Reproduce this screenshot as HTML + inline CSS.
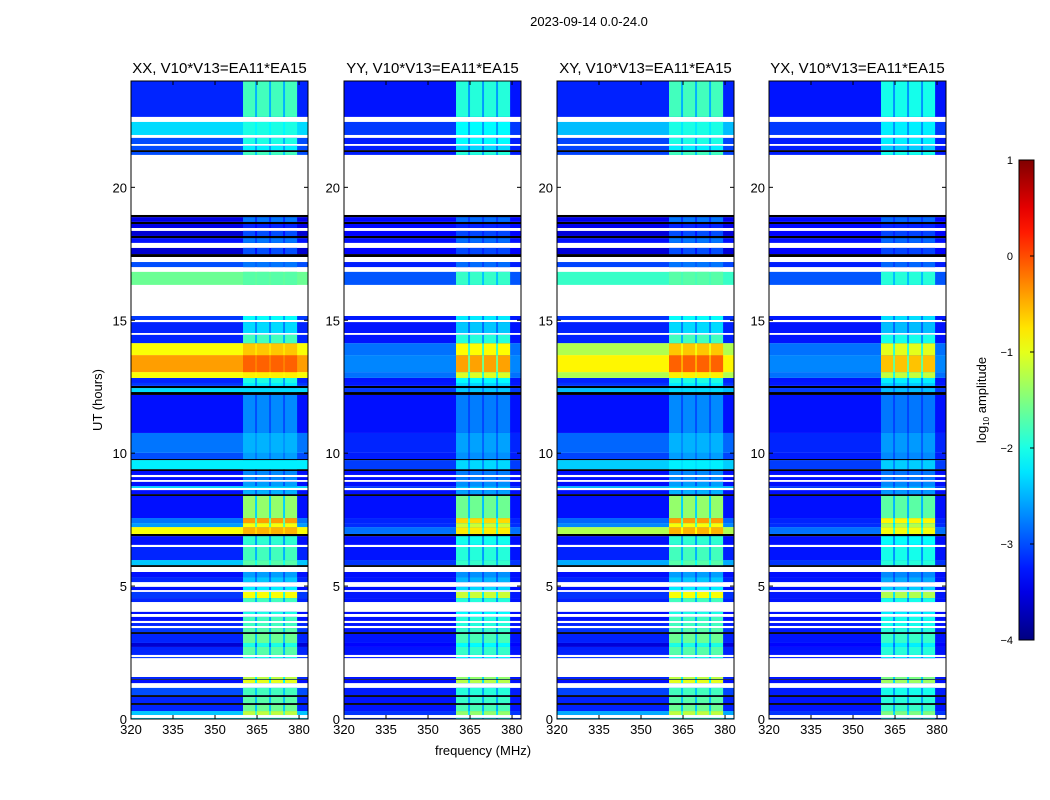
<!DOCTYPE html>
<html><head><meta charset="utf-8">
<style>
html,body{margin:0;padding:0;background:#fff;}
svg{display:block;font-family:"Liberation Sans","DejaVu Sans",sans-serif;}
</style></head>
<body>
<svg id="fig" width="1050" height="800" viewBox="0 0 1050 800" xmlns="http://www.w3.org/2000/svg">
<rect x="0" y="0" width="1050" height="800" fill="#fff"/>
<text x="589" y="26" font-size="13" text-anchor="middle">2023-09-14 0.0-24.0</text>
<text x="483" y="755" font-size="13" text-anchor="middle">frequency (MHz)</text>
<text x="0" y="0" font-size="13" text-anchor="middle" transform="translate(102,400) rotate(-90)">UT (hours)</text>
<g id="panels"></g>
<g id="cbar"></g>
</svg>
<script>
// ---- data ----
var panelNames = ["XX", "YY", "XY", "YX"];
var panelTitles = ["XX, V10*V13=EA11*EA15","YY, V10*V13=EA11*EA15","XY, V10*V13=EA11*EA15","YX, V10*V13=EA11*EA15"];
var bgGain = [1, 0.2, 0.85, 0.2];
var boxGain = [1, 0.9, 1, 0.85];
// time segments (UT hours); bg/box = log10 amplitude; null = no data (white); -9 = flagged (black)
var segStart = [0,0.04,0.15,0.30,0.53,0.60,0.83,0.90,1.17,1.35,1.47,1.50,1.58,2.29,2.33,2.41,2.71,2.86,3.20,3.27,3.42,3.50,3.61,3.69,3.84,3.95,4.03,4.40,4.55,4.78,4.85,4.97,5.15,5.34,5.53,5.72,5.79,5.98,6.47,6.55,6.88,6.96,7.22,7.37,7.56,8.39,8.46,8.61,8.69,8.76,8.92,8.99,9.10,9.18,9.33,9.40,9.74,9.78,10.01,10.76,12.19,12.30,12.45,12.53,12.64,12.83,13.05,13.69,14.14,14.45,14.52,14.93,15.01,15.16,16.33,16.82,17.00,17.19,17.38,17.49,17.72,17.91,18.09,18.17,18.36,18.47,18.62,18.70,18.88,18.96,21.22,21.33,21.40,21.56,21.63,21.86,21.97,22.46,22.65];
var segEnd   = [0.04,0.15,0.30,0.53,0.60,0.83,0.90,1.17,1.35,1.47,1.50,1.58,2.29,2.33,2.41,2.71,2.86,3.20,3.27,3.42,3.50,3.61,3.69,3.84,3.95,4.03,4.40,4.55,4.78,4.85,4.97,5.15,5.34,5.53,5.72,5.79,5.98,6.47,6.55,6.88,6.96,7.22,7.37,7.56,8.39,8.46,8.61,8.69,8.76,8.92,8.99,9.10,9.18,9.33,9.40,9.74,9.78,10.01,10.76,12.19,12.30,12.45,12.53,12.64,12.83,13.05,13.69,14.14,14.45,14.52,14.93,15.01,15.16,16.33,16.82,17.00,17.19,17.38,17.49,17.72,17.91,18.09,18.17,18.36,18.47,18.62,18.70,18.88,18.96,21.22,21.33,21.40,21.56,21.63,21.86,21.97,22.46,22.65,24];
var segBg  = [-2.3,null,-2.4,-3.2,-9,-3.2,-9,-3.0,null,-3.3,-9,-3.2,null,-3.1,null,-3.2,-3.6,-3.2,-9,-3.1,null,-3.2,null,-3.3,null,-3.3,null,-3.2,-3.1,null,-3.3,null,-3.2,-3.3,null,-9,-2.4,-3.2,null,-3.3,-9,-0.9,-2.6,-2.8,-3.3,-9,-3.3,null,-2.3,-3.3,null,-3.3,null,-3.3,-9,-2.2,-9,-3.0,-2.8,-3.3,-9,-2.3,-9,-3.1,-3.2,-0.9,-0.4,-0.9,-3.2,null,-3.2,null,-3.1,null,-1.6,null,-3.0,null,-9,-3.6,null,-3.3,-9,-3.6,null,-3.5,-9,-3.5,-9,null,-3.0,-9,-3.0,null,-3.0,null,-2.3,null,-3.2];
var segBox = [-2.0,null,-1.2,-1.6,-9,-1.7,-9,-1.8,null,-1.0,-9,-1.2,null,-2.0,null,-1.7,-2.0,-1.6,-9,-1.7,null,-1.8,null,-1.8,null,-2.0,null,-1.8,-0.9,null,-2.2,null,-2.4,-2.6,null,-9,-1.7,-1.8,null,-1.9,-9,-0.5,-0.9,-0.4,-1.4,-9,-2.5,null,-2.3,-2.6,null,-2.7,null,-2.7,-9,-2.2,-9,-2.6,-2.5,-2.7,-9,-2.3,-9,-2.2,-2.0,-0.8,-0.1,-0.6,-1.8,null,-2.3,null,-2.1,null,-1.7,null,-2.8,null,-9,-3.0,null,-2.8,-9,-3.0,null,-3.2,-9,-2.8,-9,null,-1.8,-9,-2.2,null,-2.0,null,-2.0,null,-1.8];
var boxStart = [360, 365, 370, 375];
var boxWidth = 4.3;
var xTicks = [320, 335, 350, 365, 380];
var yTicks = [0, 5, 10, 15, 20];
var cbTicks = [1, 0, -1, -2, -3, -4];

// ---- scales ----
var panelLeft = [131, 344, 557, 769], panelW = 177, top0 = 81, bot0 = 719;
var fMin = 320, fMax = 383.2, tMin = 0, tMax = 24, vMin = -4, vMax = 1;
function xs(p, f){ return panelLeft[p] + (f - fMin) / (fMax - fMin) * panelW; }
function ys(t){ return bot0 - (t - tMin) / (tMax - tMin) * (bot0 - top0); }
function cl(a){ return Math.max(0, Math.min(1, a)); }
function jet(v){
  var t = cl((v - vMin) / (vMax - vMin));
  var r = cl(1.5 - Math.abs(4*t - 3)), g = cl(1.5 - Math.abs(4*t - 2)), b = cl(1.5 - Math.abs(4*t - 1));
  return "rgb(" + Math.round(r*255) + "," + Math.round(g*255) + "," + Math.round(b*255) + ")";
}
var NS = "http://www.w3.org/2000/svg";
function mk(tag, attrs, parent){
  var e = document.createElementNS(NS, tag);
  for (var k in attrs) e.setAttribute(k, attrs[k]);
  parent.appendChild(e); return e;
}
var panelsG = document.getElementById("panels");
for (var p = 0; p < 4; p++){
  var g = mk("g", {}, panelsG);
  
  
  var L = xs(p, fMin), R = xs(p, fMax);
  for (var i = 0; i < segStart.length; i++){
    var y1 = ys(segEnd[i]), y2 = ys(segStart[i]);
    var h = Math.max(y2 - y1, 0.5);
    if (segBg[i] === null) continue;
    if (segBg[i] === -9){
      var kr = mk("rect", {x: L, y: y1, width: R - L, height: h, fill: "#000"}, g);
      
      
      continue;
    }
    var bg = -3.3 + (segBg[i] + 3.3) * bgGain[p];
    var bx = -3.3 + (segBox[i] + 3.3) * boxGain[p];
    var br = mk("rect", {x: L, y: y1, width: R - L, height: h, fill: jet(bg)}, g);
    
    
    var gap = mk("rect", {x: xs(p, boxStart[0]), y: y1, width: xs(p, boxStart[3] + boxWidth) - xs(p, boxStart[0]), height: h, fill: jet((bg + bx) / 2)}, g);
    
    
    for (var b = 0; b < boxStart.length; b++){
      var c = mk("rect", {x: xs(p, boxStart[b]), y: y1, width: xs(p, boxStart[b] + boxWidth) - xs(p, boxStart[b]), height: h, fill: jet(bx)}, g);
      
      
    }
  }
  var fr = mk("rect", {x: L, y: top0, width: R - L, height: bot0 - top0, fill: "none", stroke: "#000", "stroke-width": 1}, g);
  
  
  for (var j = 0; j < xTicks.length; j++){
    var x = xs(p, xTicks[j]);
    mk("line", {x1: x, y1: bot0, x2: x, y2: bot0 - 4, stroke: "#000"}, g);
    mk("line", {x1: x, y1: top0, x2: x, y2: top0 + 4, stroke: "#000"}, g);
    var tl = mk("text", {x: x, y: bot0 + 15, "font-size": 13, "text-anchor": "middle"}, g);
    tl.textContent = xTicks[j];
    
    
  }
  for (var j = 0; j < yTicks.length; j++){
    var y = ys(yTicks[j]);
    mk("line", {x1: L, y1: y, x2: L + 4, y2: y, stroke: "#000"}, g);
    mk("line", {x1: R, y1: y, x2: R - 4, y2: y, stroke: "#000"}, g);
    var yl = mk("text", {x: L - 4, y: y + 5, "font-size": 13, "text-anchor": "end"}, g);
    yl.textContent = yTicks[j];
    
    
  }
  var tt = mk("text", {x: (L + R) / 2, y: 73, "font-size": 15, "text-anchor": "middle"}, g);
  tt.textContent = panelTitles[p];
  
  
}
// colorbar
var cb = document.getElementById("cbar");
var cbX = 1019, cbW = 15, cbTop = 160, cbBot = 640;
function cys(v){ return cbBot - (v - vMin) / (vMax - vMin) * (cbBot - cbTop); }
var defs = mk("defs", {}, cb);
var grad = mk("linearGradient", {id: "jetg", x1: 0, y1: 1, x2: 0, y2: 0}, defs);
for (var s = 0; s <= 20; s++){
  mk("stop", {offset: (s / 20), "stop-color": jet(vMin + (vMax - vMin) * s / 20)}, grad);
}
var cr = mk("rect", {x: cbX, y: cbTop, width: cbW, height: cbBot - cbTop, fill: "url(#jetg)", stroke: "#000", "stroke-width": 1}, cb);


for (var k = 0; k < cbTicks.length; k++){
  var yy = cys(cbTicks[k]);
  mk("line", {x1: cbX + cbW - 4, y1: yy, x2: cbX + cbW, y2: yy, stroke: "#000"}, cb);
  var ct = mk("text", {x: 1013, y: yy + 4, "font-size": 11, "text-anchor": "end"}, cb);
  ct.textContent = cbTicks[k] < 0 ? "\u2212" + (-cbTicks[k]) : String(cbTicks[k]);
  
  
}
var lab = mk("text", {x: 0, y: 0, "font-size": 13, "text-anchor": "middle", transform: "translate(986,400) rotate(-90)"}, cb);
lab.innerHTML = 'log<tspan font-size="8" dy="3">10</tspan><tspan dy="-3"> amplitude</tspan>';


</script>
</body></html>
